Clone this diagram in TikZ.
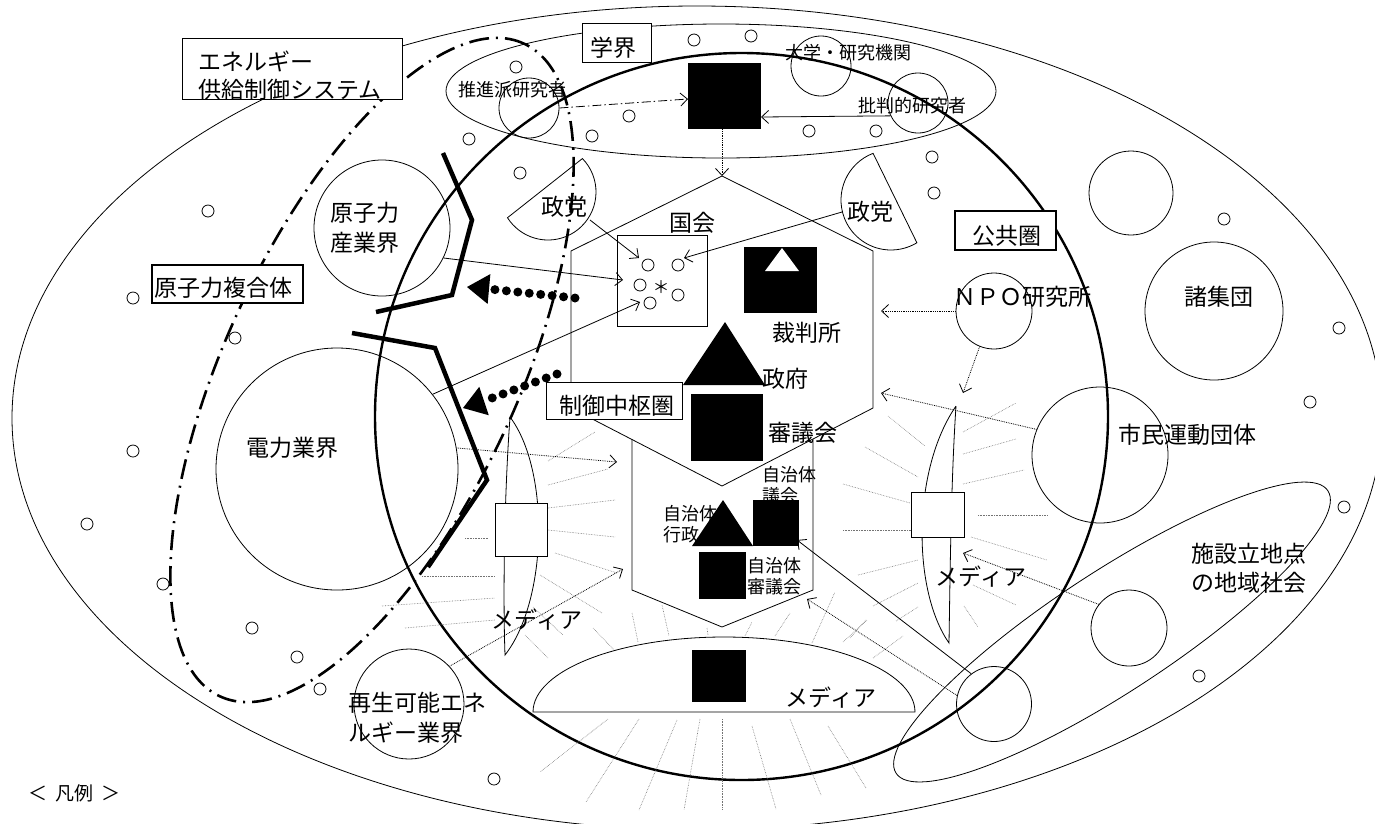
\documentclass[tikz,border=0pt]{standalone}
\usepackage{fontspec}
\setmainfont{Noto Sans CJK JP}
\usetikzlibrary{arrows.meta,calc}
\tikzset{
  thinl/.style={line width=0.8pt},
  lf/.style={font=\fontsize{23pt}{29pt}\selectfont, inner sep=0pt},
  sf/.style={font=\fontsize{18pt}{21pt}\selectfont, inner sep=0pt},
  dotc/.style={circle, draw, line width=0.8pt, minimum size=12pt, inner sep=0pt},
  ring/.style={circle, draw, line width=0.8pt, inner sep=0pt},
  ray/.style={draw=black!55, line width=0.6pt, densely dotted},
  barb/.style={-{Straight Barb[length=7pt,width=13pt]}},
  darr/.style={line width=0.8pt, densely dotted, barb},
  sarr/.style={line width=0.8pt, barb},
  ddarr/.style={line width=0.8pt, dash pattern=on 9pt off 3pt on 1.5pt off 3pt, barb},
  bigdots/.style={line width=9pt, line cap=round, dash pattern=on 0pt off 11.5pt},
  ddthick/.style={line width=2.6pt, dash pattern=on 20pt off 7pt on 2pt off 7pt},
  thickpl/.style={line width=4.5pt, line join=miter},
  wbox/.style={draw, fill=white, line width=0.8pt, inner sep=0pt},
  tbox/.style={draw, fill=white, line width=2.4pt, inner sep=0pt},
  blk/.style={fill=black, inner sep=0pt},
}
\begin{document}
\begin{tikzpicture}[x=1pt,y=-1pt]
\useasboundingbox (0,0) rectangle (1375,823);
\clip (0,0) rectangle (1375,823);

% outer ellipses
\draw[thinl] (697,418) ellipse [x radius=685pt, y radius=412pt];
\draw[thinl] (721,91) ellipse [x radius=275pt, y radius=67pt];
\draw[thinl, rotate around={33.2:(1112,632)}] (1112,632) ellipse [x radius=258pt, y radius=60pt];

% small circles
\foreach \x/\y [count=\i] in {694/40,751/36,516/67,629/116,469/139,592/136,809/131,876/131,520/173,932/157,934/193,1224/219,1339/328,1310/402,1344/507,1199/676,208/211,133/298,235/338,133/451,87/524,163/584,252/628,297/657,320/689,494/779}
  \node[dotc] (s\i) at (\x,\y) {};

% group circles
\node[ring, minimum size=60pt] (suishin) at (529,108) {};
\node[ring, minimum size=60pt] (daigaku) at (821,66) {};
\node[ring, minimum size=60pt] (hihan) at (918,103) {};
\node[ring, minimum size=136pt] (genshi) at (382,228) {};
\node[ring, minimum size=242pt] (denryoku) at (337,469) {};
\node[ring, minimum size=84pt] (topc) at (1131,193) {};
\node[ring, minimum size=138pt] (shoshudan) at (1214,311) {};
\node[ring, minimum size=76pt] (npo) at (994,311) {};
\node[ring, minimum size=136pt] (shimin) at (1100,455) {};
\node[ring, minimum size=76pt] (shisetsu1) at (1129,628) {};
\node[ring, minimum size=75pt] (shisetsu2) at (994,704) {};
\node[ring, minimum size=110pt] (saisei) at (409,704) {};

% public sphere circle
\draw[line width=2.4pt] (741.5,416.5) ellipse [x radius=366.5pt, y radius=363.5pt];

% rays around the media
\foreach \a/\b/\c/\d in {548/461/595/432, 548/485/608/469, 548/508/615/500, 548/530/615/537, 555/553/617/573, 540/575/602/613, 533/607/563/635, 525/635/548/658, 593/628/616/652, 465/538/488/538, 422/576/495/576, 382/606/495/598, 405/628/495/620,
 632/613/638/642, 662/605/669/636, 707/628/708/635, 745/636/752/622, 775/636/790/613, 812/643/835/592, 843/642/867/620, 873/658/903/636,
 608/719/540/772, 639/719/586/802, 677/720/639/810, 700/719/684/810, 722/719/722/809, 752/726/776/809, 790/719/821/795, 828/726/866/788,
 888/416/925/446, 865/447/918/477, 843/484/910/503, 843/530/911/530, 858/575/918/560, 873/606/918/583, 896/621/918/607, 850/638/866/620,
 963/432/1016/403, 963/454/1016/439, 963/484/1024/470, 978/515/1047/515, 971/537/1047/560, 973/585/1016/605, 964/606/978/627}
  \draw[ray] (\a,\b) -- (\c,\d);

% control centre hexagons
\coordinate (hT) at (722,176);
\draw[thinl] (hT) -- (873,251) -- (873,408) -- (722,486) -- (571,408) -- (571,251) -- cycle;
\draw[thinl] (632,439) -- (632,590) -- (722,627) -- (813,590) -- (813,439);
\node[draw, thinl, minimum width=90pt, minimum height=91pt, inner sep=0pt] (kbox) at (662,280.5) {};
\foreach \x/\y [count=\i] in {648/265,678/265,640/285,678/295,650/303}
  \node[dotc] (k\i) at (\x,\y) {};

% parties
\coordinate (pL) at (548,192);
\draw[thinl] (pL) ++(44.2:48pt) arc[start angle=44.2, end angle=-147.6, radius=48pt] -- cycle;
\coordinate (pR) at (891,200);
\draw[thinl] (pR) ++(111:50pt) arc[start angle=111, end angle=301.2, radius=50pt] -- cycle;

% media
\draw[thinl] (510,417) .. controls (504,500) and (503,600) .. (505,655) .. controls (548,600) and (550,470) .. (510,417);
\draw[thinl] (956,406) .. controls (951,480) and (950,580) .. (949,643) .. controls (912,590) and (912,470) .. (956,406);
\draw[thinl, fill=white] (915,712) arc[start angle=0, end angle=180, x radius=191pt, y radius=75pt] -- cycle;
\node[wbox, minimum width=52pt, minimum height=53pt] (medLsq) at (521,529.5) {};
\node[wbox, minimum width=53pt, minimum height=45pt] (medRsq) at (937.5,514.5) {};

% nuclear complex
\draw[ddthick, rotate around={65:(372,370)}] (372,370) ellipse [x radius=360pt, y radius=146pt];
\draw[thickpl] (443,153) -- (472,220) -- (452,295) -- (376,312);
\draw[thickpl] (352,333) -- (435,348) -- (487,480) -- (428,567);

% label boxes
\node[wbox, minimum width=220pt, minimum height=61pt] (enebox) at (292,68.5) {};
\node[tbox, minimum width=151pt, minimum height=38pt] (fukugobox) at (227.5,284) {};
\node[wbox, minimum width=69pt, minimum height=39pt] (gakkaibox) at (616.5,42.5) {};
\node[tbox, minimum width=101pt, minimum height=39pt] (kokyobox) at (1005.5,230.5) {};
\node[wbox, minimum width=136pt, minimum height=37pt] (seigyobox) at (614,400.5) {};

% texts
\node[lf, anchor=west, align=left, font=\fontsize{23pt}{28pt}\selectfont] (tEne) at (198,76) {エネルギー\\供給制御システム};
\node[lf] (tFuku) at (223,288) {原子力複合体};
\node[lf] (tGakkai) at (613,48) {学界};
\node[sf] (tSuishin) at (512,90) {推進派研究者};
\node[sf] (tDaigaku) at (848,53) {大学・研究機関};
\node[sf] (tHihan) at (912,106) {批判的研究者};
\node[lf, align=center, font=\fontsize{23pt}{30pt}\selectfont] (tGenshi) at (365,228) {原子力\\産業界};
\node[lf] (tDen) at (292,448) {電力業界};
\node[lf] (tSeitoL) at (564,207) {政党};
\node[lf] (tSeitoR) at (870,212) {政党};
\node[lf] (tKokkai) at (692,223) {国会};
\node[lf] (tSaiban) at (807,333) {裁判所};
\node[lf] (tSeifu) at (785,379) {政府};
\node[lf] (tShingi) at (803,433) {審議会};
\node[lf] (tSeigyo) at (617,406) {制御中枢圏};
\node[lf] (tKokyo) at (1007,236) {公共圏};
\node[lf] (tNPO) at (1022,297) {ＮＰＯ研究所};
\node[lf] (tShodan) at (1219,297) {諸集団};
\node[lf] (tShimin) at (1187,435) {市民運動団体};
\node[lf, align=center] (tShisetsu) at (1249,568) {施設立地点\\の地域社会};
\node[lf, anchor=west, align=left, font=\fontsize{23pt}{30pt}\selectfont] (tSaisei) at (348,718) {再生可能エネ\\ルギー業界};
\node[lf] (tMedL) at (537,620) {メディア};
\node[lf] (tMedR) at (981,577) {メディア};
\node[lf] (tMedB) at (831,698) {メディア};
\node[sf, anchor=west, align=left] (tJG) at (762,485) {自治体\\議会};
\node[sf, anchor=west, align=left] (tJK) at (663,524) {自治体\\行政};
\node[sf, anchor=west, align=left] (tJS) at (747,576) {自治体\\審議会};
\node[font=\fontsize{19pt}{22pt}\selectfont, inner sep=0pt, anchor=west] (tLegend) at (28,793) {＜\hspace{8pt}凡例\hspace{8pt}＞};
\node[font=\fontsize{17pt}{20pt}\selectfont, inner sep=0pt] (tAst) at (661,287) {＊};

% black symbols
\node[blk, minimum width=73pt, minimum height=66pt] (gksq) at (724.5,96) {};
\node[blk, minimum width=73pt, minimum height=66pt] (saibansq) at (780.5,280) {};
\fill[white] (782,248) -- (765,271) -- (799,271) -- cycle;
\fill (725,322) -- (683,385) -- (765,385) -- cycle;
\node[blk, minimum width=72pt, minimum height=67pt] (shingisq) at (727,427.5) {};
\fill (723,500) -- (692,546) -- (753,546) -- cycle;
\node[blk, minimum width=46pt, minimum height=46pt] (jgsq) at (776,523) {};
\node[blk, minimum width=47pt, minimum height=47pt] (jssq) at (722.5,575.5) {};
\node[blk, minimum width=54pt, minimum height=52pt] (medsq) at (719,676) {};

% connector end points
\coordinate (eGk1) at (688,99);
\coordinate (eGk2) at (761,117);
\coordinate (eK1) at (623,280);
\coordinate (eK2) at (640,302);
\coordinate (eK3) at (639,258);
\coordinate (eK4) at (684,258);
\coordinate (eHexR1) at (881,311);
\coordinate (eHexR2) at (881,393);
\coordinate (eMedR) at (963,393);
\coordinate (eMedR2) at (963,553);
\coordinate (eJH) at (807,599);
\coordinate (eJG) at (797,540);
\coordinate (eL1) at (617,462);
\coordinate (eL2) at (623,569);
\coordinate (sL1) at (590,220);
\coordinate (sR1) at (842,212);

% connectors
\draw[ddarr] (suishin.east) -- (eGk1);
\draw[sarr] (hihan.205) -- (eGk2);
\draw[darr] (gksq.south -| hT) -- (hT);
\draw[sarr] (genshi.-26) -- (eK1);
\draw[sarr] (denryoku.38) -- (eK2);
\draw[sarr] (sL1) -- (eK3);
\draw[sarr] (sR1) -- (eK4);
\draw[darr] (npo.west) -- (eHexR1);
\draw[darr] (npo.-112) -- (eMedR);
\draw[darr] (shimin.158) -- (eHexR2);
\draw[darr] (shisetsu1.142) -- (eMedR2);
\draw[darr] (shisetsu2.167) -- (eJH);
\draw[sarr] (shisetsu2.127) -- (eJG);
\draw[darr] (denryoku.10) -- (eL1);
\draw[darr] (saisei.43) -- (eL2);

% big dotted arrows
\coordinate (bd1s) at (575,298);
\coordinate (bd1b) at (489,289);
\coordinate (bd1t) at (467,287);
\draw[bigdots] (bd1s) -- (bd1b);
\fill (bd1t) -- ($(bd1b)!15pt!90:(bd1t)$) -- ($(bd1b)!15pt!-90:(bd1t)$) -- cycle;
\coordinate (bd2s) at (557,374);
\coordinate (bd2b) at (484,401);
\coordinate (bd2t) at (463,408);
\draw[bigdots] (bd2s) -- (bd2b);
\fill (bd2t) -- ($(bd2b)!15pt!90:(bd2t)$) -- ($(bd2b)!15pt!-90:(bd2t)$) -- cycle;
\end{tikzpicture}
\end{document}
